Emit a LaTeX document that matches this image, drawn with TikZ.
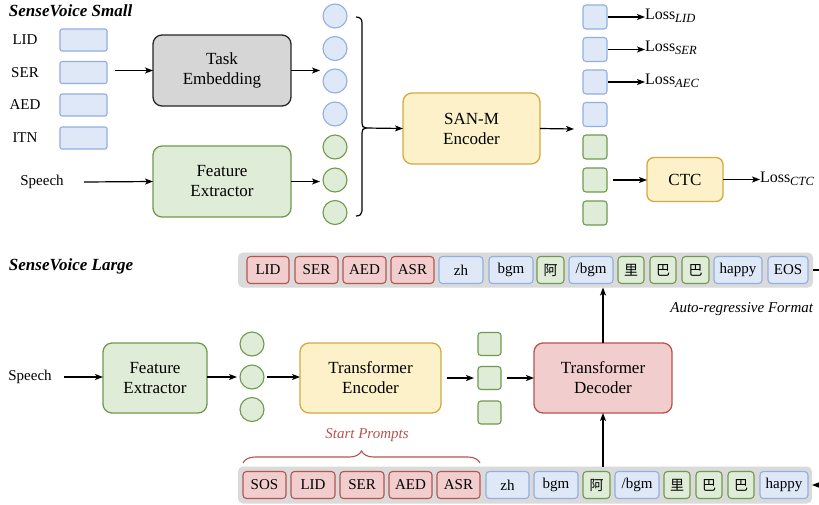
\documentclass[tikz,border=0pt]{standalone}
\usepackage{fontspec}
\setmainfont{Liberation Serif}
\newfontfamily\cjk{Noto Sans CJK SC}
\usetikzlibrary{arrows.meta,decorations.pathreplacing,calc}
\definecolor{bfill}{HTML}{DEE8F7}
\definecolor{bline}{HTML}{93AEE0}
\definecolor{gfill}{HTML}{DFECD7}
\definecolor{gline}{HTML}{6F9A4F}
\definecolor{yfill}{HTML}{FDF1C9}
\definecolor{yline}{HTML}{D4AA3F}
\definecolor{rfill}{HTML}{F2CDCD}
\definecolor{rline}{HTML}{B85450}
\definecolor{tfill}{HTML}{D6D6D6}
\definecolor{barfill}{HTML}{DADADA}
\newcommand{\losssub}[1]{\raisebox{-3.5pt}{\fontsize{12.5}{13}\selectfont\itshape #1}}
\begin{document}
\begin{tikzpicture}[x=1pt,y=-1pt,
  every node/.style={inner sep=0pt, outer sep=0pt},
  arr/.style={-{Stealth[length=8pt,width=6pt,inset=2pt]}, line width=1.2pt, draw=black},
  lbl/.style={font=\rmfamily\fontsize{15}{17}\selectfont},
  bigbox/.style={draw, rounded corners=9pt, line width=1.3pt, align=center, font=\rmfamily\fontsize{17}{20}\selectfont},
  bluerect/.style={draw=bline, fill=bfill, rounded corners=2pt, line width=1.1pt, minimum width=47pt, minimum height=22pt},
  bcirc/.style={circle, draw=bline, fill=bfill, line width=1.1pt, minimum size=24pt},
  gcirc/.style={circle, draw=gline, fill=gfill, line width=1.1pt, minimum size=24pt},
  bsq/.style={draw=bline, fill=bfill, rounded corners=3pt, line width=1.1pt, minimum size=24pt},
  gsq/.style={draw=gline, fill=gfill, rounded corners=3pt, line width=1.1pt, minimum size=24pt},
  tok/.style={rounded corners=3.5pt, line width=1.1pt, minimum height=27pt, font=\rmfamily\fontsize{15}{17}\selectfont},
  tokr/.style={tok, draw=rline, fill=rfill},
  tokb/.style={tok, draw=bline, fill=bfill},
  tokg/.style={tok, draw=gline, fill=gfill, font=\cjk\fontsize{14}{16}\selectfont},
  loss/.style={anchor=west, font=\rmfamily\fontsize{16}{18}\selectfont},
  ttl/.style={font=\rmfamily\bfseries\itshape\fontsize{17}{20}\selectfont}
]
\useasboundingbox (0,0) rectangle (819,504);
\fill[white] (0,0) rectangle (819,504);

% ---------------- SenseVoice Small ----------------
\node[ttl, anchor=west] (ttlS) at (9,11) {SenseVoice Small};

\node[lbl] (lLID) at (25,40) {LID};
\node[lbl] (lSER) at (25,72.5) {SER};
\node[lbl] (lAED) at (25,105) {AED};
\node[lbl] (lITN) at (25,138) {ITN};
\node[bluerect] (r1) at (83.5,40) {};
\node[bluerect] (r2) at (83.5,72.5) {};
\node[bluerect] (r3) at (83.5,105) {};
\node[bluerect] (r4) at (83.5,138) {};

\node[bigbox, fill=tfill, draw=black!85, minimum width=138pt, minimum height=71pt] (task) at (222,70.5) {Task\\Embedding};
\node[bigbox, fill=gfill, draw=gline, minimum width=138pt, minimum height=71pt] (feat) at (222,181.5) {Feature\\Extractor};

\coordinate (tIn) at (115,70.5);
\draw[arr] (tIn) -- (task.west);
\node[lbl] (speechS) at (42,182) {Speech};
\coordinate (sIn) at (84,182);
\draw[arr] (sIn) -- (feat.west);

\node[bcirc] (c1) at (335,16) {};
\node[bcirc] (c2) at (335,48.5) {};
\node[bcirc] (c3) at (335,81) {};
\node[bcirc] (c4) at (335,114) {};
\node[gcirc] (c5) at (335,147) {};
\node[gcirc] (c6) at (335,180) {};
\node[gcirc] (c7) at (335,212.5) {};

\coordinate (tOut) at (320,70.5);
\coordinate (fOut) at (320,181.5);
\draw[arr] (task.east) -- (tOut);
\draw[arr] (feat.east) -- (fOut);

% bracket
\draw[line width=1.2pt] (356,17) .. controls (360,17) and (362,19) .. (362,23) -- (362,123)
  .. controls (362,126) and (363,128) .. (366,128) .. controls (363,128) and (362,130) .. (362,133)
  -- (362,211) .. controls (362,214) and (360,216) .. (356,216);
\coordinate (brTip) at (365,128);

\node[bigbox, fill=yfill, draw=yline, minimum width=137pt, minimum height=71pt] (san) at (471.5,128.5) {SAN-M\\Encoder};
\draw[arr] (brTip) -- (san.west);
\coordinate (sanOut) at (574,129);
\draw[arr] (san.east) -- (sanOut);

\node[bsq] (q1) at (595,17) {};
\node[bsq] (q2) at (595,49.5) {};
\node[bsq] (q3) at (595,82) {};
\node[bsq] (q4) at (595,114.5) {};
\node[gsq] (q5) at (595,147) {};
\node[gsq] (q6) at (595,180) {};
\node[gsq] (q7) at (595,213) {};

\node[loss] (ls1) at (645,16) {Loss\losssub{LID}};
\node[loss] (ls2) at (645,48) {Loss\losssub{SER}};
\node[loss] (ls3) at (645,81) {Loss\losssub{AEC}};
\draw[arr] (q1.east) ++(1,0) -- (ls1.west |- q1);
\draw[arr] (q2.east) ++(1,0) -- (ls2.west |- q2);
\draw[arr] (q3.east) ++(1,0) -- (ls3.west |- q3);

\node[bigbox, fill=yfill, draw=yline, rounded corners=7pt, minimum width=76pt, minimum height=44pt] (ctc) at (685,179.5) {CTC};
\draw[arr, shorten <=6pt] (q6.east) -- (ctc.west |- q6);
\node[loss] (lsc) at (760,179) {Loss\losssub{CTC}};
\draw[arr] (ctc.east) -- (lsc.west |- ctc);

% ---------------- SenseVoice Large ----------------
\node[ttl, anchor=west] (ttlL) at (9,266) {SenseVoice Large};

% top token bar
\node[fill=barfill, rounded corners=5pt, minimum width=575pt, minimum height=35pt] (tbar) at (525.5,270) {};
\node[tokr, minimum width=42pt] (a1) at (268,270) {LID};
\node[tokr, minimum width=43pt] (a2) at (316.5,270) {SER};
\node[tokr, minimum width=43pt] (a3) at (364.5,270) {AED};
\node[tokr, minimum width=43pt] (a4) at (412.5,270) {ASR};
\node[tokb, minimum width=44pt] (a5) at (461,270) {zh};
\node[tokb, minimum width=44pt] (a6) at (511,270) {bgm};
\node[tokg, minimum width=27pt] (a7) at (550.5,270) {阿};
\node[tokb, minimum width=44pt] (a8) at (591,270) {/bgm};
\node[tokg, minimum width=26pt] (a9) at (631,270) {里};
\node[tokg, minimum width=26pt] (a10) at (663,270) {巴};
\node[tokg, minimum width=27pt] (a11) at (695.5,270) {巴};
\node[tokb, minimum width=48pt] (a12) at (738,270) {happy};
\node[tokb, minimum width=40pt] (a13) at (788,270) {EOS};
\coordinate (tbarR) at (819,270);
\draw[line width=1.2pt] (tbar.east) -- (tbarR);

\node[anchor=east, font=\rmfamily\itshape\fontsize{15}{17}\selectfont] (arf) at (813,309) {Auto-regressive Format};

% main flow
\node[lbl] (speechL) at (30,377) {Speech};
\coordinate (sIn2) at (64,377);
\node[bigbox, fill=gfill, draw=gline, minimum width=104pt, minimum height=70pt] (fe2) at (155,378) {Feature\\Extractor};
\draw[arr] (sIn2) -- (fe2.west |- sIn2);

\node[gcirc] (d1) at (252,344) {};
\node[gcirc] (d2) at (252,377) {};
\node[gcirc] (d3) at (252,409.5) {};
\draw[arr, shorten >=3pt] (fe2.east |- d2) -- (d2.west);

\node[bigbox, fill=yfill, draw=yline, minimum width=141pt, minimum height=70pt] (enc) at (370.5,378) {Transformer\\Encoder};
\draw[arr, shorten <=3pt] (d2.east) -- (enc.west |- d2);

\node[gsq, minimum size=23pt] (e1) at (489.5,344) {};
\node[gsq, minimum size=23pt] (e2) at (489.5,378) {};
\node[gsq, minimum size=23pt] (e3) at (489.5,412.5) {};
\draw[arr, shorten <=6pt, shorten >=4pt] (enc.east) -- (e2.west);

\node[bigbox, fill=rfill, draw=rline, minimum width=138pt, minimum height=70pt] (dec) at (603,378) {Transformer\\Decoder};
\draw[arr, shorten <=6pt] (e2.east) -- (dec.west);

\draw[arr] (dec.north) -- (tbar.south -| dec.north);

% bottom token bar
\node[fill=barfill, rounded corners=5pt, minimum width=574pt, minimum height=37pt] (bbar) at (525,485) {};
\node[tokr, minimum width=43pt] (b1) at (264.5,485) {SOS};
\node[tokr, minimum width=44pt] (b2) at (313,485) {LID};
\node[tokr, minimum width=44pt] (b3) at (362,485) {SER};
\node[tokr, minimum width=43pt] (b4) at (410.5,485) {AED};
\node[tokr, minimum width=43pt] (b5) at (458.5,485) {ASR};
\node[tokb, minimum width=43pt] (b6) at (507.5,485) {zh};
\node[tokb, minimum width=44pt] (b7) at (556,485) {bgm};
\node[tokg, minimum width=27pt] (b8) at (596.5,485) {阿};
\node[tokb, minimum width=44pt] (b9) at (637,485) {/bgm};
\node[tokg, minimum width=26pt] (b10) at (677,485) {里};
\node[tokg, minimum width=26pt] (b11) at (709,485) {巴};
\node[tokg, minimum width=26pt] (b12) at (741,485) {巴};
\node[tokb, minimum width=48pt] (b13) at (784,485) {happy};
\coordinate (bbarR) at (819,485);
\draw[arr] (bbarR) -- (bbar.east);

\draw[arr] (bbar.north -| dec.south) -- (dec.south);

\draw[rline, line width=1.1pt, decorate, decoration={brace, amplitude=12pt}] (243,463) -- (480,463);
\node[font=\rmfamily\itshape\fontsize{15}{17}\selectfont, text=rline] (sp) at (367,435) {Start Prompts};
\end{tikzpicture}
\end{document}
